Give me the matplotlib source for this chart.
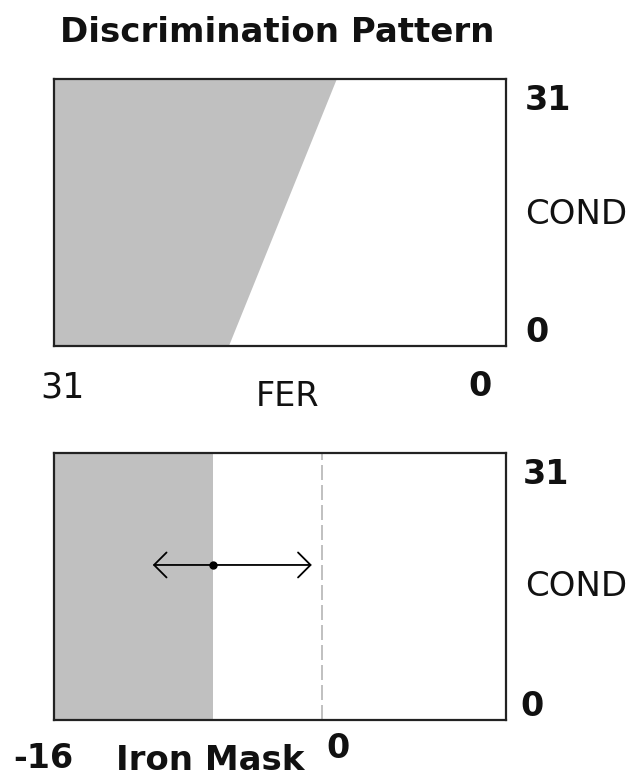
import numpy as np
import matplotlib
matplotlib.use("Agg")
import matplotlib.pyplot as plt

# --- data ---
fer_range = [31, 0]            # FER axis, left -> right
cond_range = [0, 31]           # COND axis, bottom -> top
boundary_cond = [0, 31]        # discrimination edge: COND values
boundary_fer = [19.0, 11.6]    # ... and the FER value at each of them

mask_range = [-16, 11]         # Iron Mask axis, left -> right
iron_mask = -6.5               # current mask setting (grey up to here)
arrow_span = [-10.1, -0.6]     # adjustment arrow ends
arrow_cond = 18                # height of the arrow
mask_zero = 0                  # dashed reference line

W, H = 631, 776
fig = plt.figure(figsize=(W / 100, H / 100), dpi=100)
fig.patch.set_facecolor("white")

GREY = "#c0c0c0"
EDGE = "#222222"
FONT = "DejaVu Sans"


def px(x, y):
    """pixel position (from top-left) -> figure fraction"""
    return x / W, 1 - y / H


def box(left, top, right, bottom):
    x0, y1 = px(left, top)
    x1, y0 = px(right, bottom)
    return [x0, y0, x1 - x0, y1 - y0]


def style_box(ax):
    ax.set_xticks([])
    ax.set_yticks([])
    for sp in ax.spines.values():
        sp.set_color(EDGE)
        sp.set_linewidth(1.6)


def label(x, y, s, size=24, weight="normal", ha="left"):
    fx, fy = px(x, y)
    fig.text(fx, fy, s, fontsize=size, fontweight=weight, ha=ha, va="center",
             family=FONT, color="#111111")


# title
label(277, 33, "Discrimination Pattern", size=24.5, weight="bold", ha="center")

# --- top panel: discrimination pattern ---
ax1 = fig.add_axes(box(54, 79, 506, 346))
ax1.set_xlim(fer_range)
ax1.set_ylim(cond_range)
poly_x = [fer_range[0], boundary_fer[0], boundary_fer[1], fer_range[0]]
poly_y = [cond_range[0], boundary_cond[0], boundary_cond[1], cond_range[1]]
ax1.fill(poly_x, poly_y, color=GREY, lw=0)
style_box(ax1)

label(525, 101, str(cond_range[1]), weight="bold")
label(525, 215, "COND", size=24.5)
label(525, 333, str(cond_range[0]), weight="bold")
label(40, 388, str(fer_range[0]), size=25)
label(288, 397, "FER", ha="center")
label(480, 386, str(fer_range[1]), weight="bold", ha="center")

# --- bottom panel: iron mask ---
ax2 = fig.add_axes(box(54, 453, 506, 720))
ax2.set_xlim(mask_range)
ax2.set_ylim(cond_range)
ax2.axvspan(mask_range[0], iron_mask, color=GREY, lw=0)
ax2.axvline(mask_zero, color="#b5b5b5", lw=1.2, ls=(0, (9, 3)))
ax2.annotate("", xy=(arrow_span[1], arrow_cond), xytext=(arrow_span[0], arrow_cond),
             arrowprops=dict(arrowstyle="<->,head_length=0.45,head_width=0.45",
                             color="black", lw=1.3, mutation_scale=20,
                             shrinkA=0, shrinkB=0))
ax2.plot([iron_mask], [arrow_cond], "o", color="black", ms=5)
style_box(ax2)

label(523, 474, str(cond_range[1]), weight="bold")
label(525, 587, "COND", size=24.5)
label(520, 707, str(cond_range[0]), weight="bold")
label(13, 758, str(mask_range[0]), weight="bold")
label(116, 760, "Iron Mask", size=24.5, weight="bold")
label(326, 748, str(mask_zero), weight="bold")

fig.savefig("out.png", dpi=100, facecolor="white")
